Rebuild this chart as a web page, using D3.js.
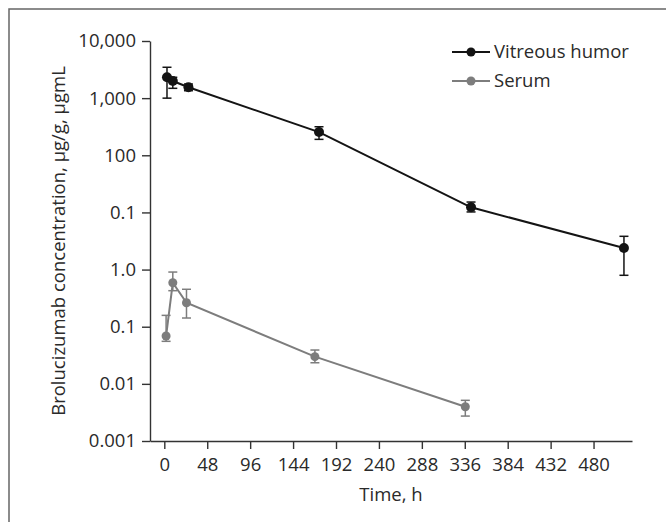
<!DOCTYPE html>
<html>
    <head>
        <title>Brolucizumab concentration</title>
        <script src="https://d3js.org/d3.v7.min.js"></script>
        <style>
         body { margin: 0; background: #fff; }
         svg { display: block; font-family: "Open Sans", "Noto Sans", sans-serif; }
         .axis path, .axis line { stroke: #333; stroke-width: 1.4; }
         .axis text { font-size: 18.5px; fill: #2a2a2a; font-family: "Open Sans", "Noto Sans", sans-serif; }
        </style>
    </head>
    <body>
        <svg width="666" height="522"></svg>
        <script>
         // data (time in h, concentration)
         const vitTime = [3, 9.5, 27, 173, 343, 514];
         const vitConc = [2317, 1995, 1549, 255, 12.3, 2.38];
         const vitHigh = [3470, 2317, 1767, 316, 15.2, 3.82];
         const vitLow  = [1000, 1486, 1349, 190, 10.2, 0.794];

         const serTime = [2, 9.5, 24.8, 168.4, 336.6];
         const serConc = [0.0687, 0.589, 0.263, 0.0299, 0.00398];
         const serHigh = [0.158, 0.905, 0.452, 0.0391, 0.00515];
         const serLow  = [0.0555, 0.427, 0.142, 0.0234, 0.00273];

         const xTicks = [0, 48, 96, 144, 192, 240, 288, 336, 384, 432, 480];
         const yTicks = [0.001, 0.01, 0.1, 1, 10, 100, 1000, 10000];
         const yTickLabels = ["0.001", "0.01", "0.1", "1.0", "0.1", "100", "1,000", "10,000"];

         const seriesNames = ["Vitreous humor", "Serum"];
         const seriesColors = ["#141414", "#7d7d7d"];

         const svg = d3.select("svg");

         // frame round the figure (right and bottom edges fall outside)
         svg.append("rect")
            .attr("x", 9).attr("y", 9)
            .attr("width", 700).attr("height", 600)
            .attr("fill", "none")
            .attr("stroke", "#666")
            .attr("stroke-width", 1.5);

         const xScale = d3.scaleLinear().domain([-16, 523]).range([150, 632]);
         const yScale = d3.scaleLog().domain([0.001, 10000]).range([441, 41]);

         svg.append("g")
            .attr("class", "axis")
            .attr("transform", "translate(0,441)")
            .call(d3.axisBottom(xScale).tickValues(xTicks).tickSize(8).tickSizeOuter(0).tickPadding(9));

         svg.append("g")
            .attr("class", "axis")
            .attr("transform", "translate(150,0)")
            .call(d3.axisLeft(yScale).tickValues(yTicks)
                  .tickFormat((d, i) => yTickLabels[i])
                  .tickSize(8).tickSizeOuter(0).tickPadding(6));

         svg.append("text")
            .attr("x", 391).attr("y", 501)
            .attr("text-anchor", "middle")
            .attr("font-size", "18.5px")
            .attr("fill", "#2a2a2a")
            .text("Time, h");

         svg.append("text")
            .attr("transform", "translate(65,241) rotate(-90)")
            .attr("text-anchor", "middle")
            .attr("font-size", "18.5px")
            .attr("fill", "#2a2a2a")
            .text("Brolucizumab concentration, µg/g, µgmL");

         const series = [
             {time: vitTime, conc: vitConc, high: vitHigh, low: vitLow, r: 5},
             {time: serTime, conc: serConc, high: serHigh, low: serLow, r: 4.5}
         ];

         const line = d3.line().x(d => xScale(d.t)).y(d => yScale(d.v));

         series.forEach((s, k) => {
             const pts = s.time.map((t, i) => ({t: t, v: s.conc[i], hi: s.high[i], lo: s.low[i]}));
             const color = seriesColors[k];
             const g = svg.append("g");

             g.append("path")
              .datum(pts)
              .attr("d", line)
              .attr("fill", "none")
              .attr("stroke", color)
              .attr("stroke-width", 2);

             // error bars
             const eb = g.selectAll(".eb").data(pts).join("g").attr("class", "eb")
                         .attr("stroke", color).attr("stroke-width", 1.5);
             eb.append("line")
               .attr("x1", d => xScale(d.t)).attr("x2", d => xScale(d.t))
               .attr("y1", d => yScale(d.hi)).attr("y2", d => yScale(d.lo));
             eb.append("line")
               .attr("x1", d => xScale(d.t) - 4.5).attr("x2", d => xScale(d.t) + 4.5)
               .attr("y1", d => yScale(d.hi)).attr("y2", d => yScale(d.hi));
             eb.append("line")
               .attr("x1", d => xScale(d.t) - 4.5).attr("x2", d => xScale(d.t) + 4.5)
               .attr("y1", d => yScale(d.lo)).attr("y2", d => yScale(d.lo));

             g.selectAll("circle")
              .data(pts)
              .join("circle")
              .attr("cx", d => xScale(d.t))
              .attr("cy", d => yScale(d.v))
              .attr("r", s.r)
              .attr("fill", color);

             // legend entry
             const ly = 52 + k * 29;
             svg.append("line")
                .attr("x1", 452).attr("x2", 490)
                .attr("y1", ly).attr("y2", ly)
                .attr("stroke", color).attr("stroke-width", 2);
             svg.append("circle")
                .attr("cx", 471).attr("cy", ly).attr("r", 4.5)
                .attr("fill", color);
             svg.append("text")
                .attr("x", 494).attr("y", ly + 6)
                .attr("font-size", "18.5px")
                .attr("fill", "#2a2a2a")
                .text(seriesNames[k]);
         });
        </script>
    </body>
</html>
